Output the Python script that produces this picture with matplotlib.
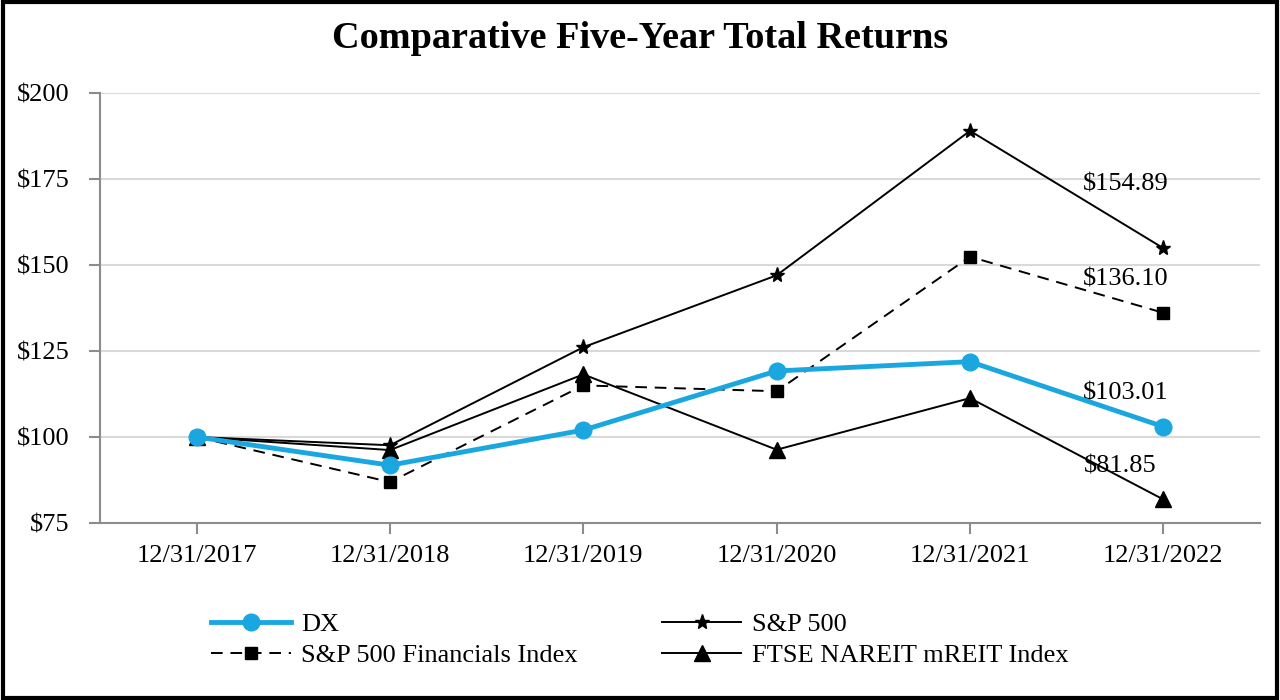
import matplotlib.pyplot as plt
from matplotlib.patches import Rectangle

plt.rcParams['font.family'] = ['Liberation Serif', 'DejaVu Serif']

dates = ['12/31/2017', '12/31/2018', '12/31/2019', '12/31/2020', '12/31/2021', '12/31/2022']
dx = [100, 91.8, 102.0, 119.2, 121.9, 103.01]
sp500 = [100, 97.6, 126.1, 147.0, 189.0, 154.89]
sp_fin = [100, 86.9, 115.0, 113.3, 152.4, 136.10]
mreit = [100, 96.2, 118.2, 96.3, 111.3, 81.85]
end_labels = ['$154.89', '$136.10', '$103.01', '$81.85']
end_values = [sp500[-1], sp_fin[-1], dx[-1], mreit[-1]]

fig = plt.figure(figsize=(12.8, 7), dpi=100)
ax = fig.add_axes([100/1280, 1 - 523/700, 1160/1280, 430/700])

x = list(range(len(dates)))
ax.plot(x, sp_fin, color='black', linestyle=(0, (6, 4)), linewidth=1.4, marker='s', markersize=9, label='S&P 500 Financials Index', zorder=3)
ax.plot(x, sp500, color='black', linewidth=1.4, marker='*', markersize=11, label='S&P 500', zorder=3)
ax.plot(x, mreit, color='black', linewidth=1.4, marker='^', markersize=11, label='FTSE NAREIT mREIT Index', zorder=3)
ax.plot(x, dx, color='#1aa7e0', linewidth=3.5, marker='o', markersize=12, label='DX', zorder=4)

# end labels
offsets = [38, 16, 16, 16]
xoffs = [-27, -27, -27, -31]
for val, lab, off, xo in zip(end_values, end_labels, offsets, xoffs):
    ax.annotate(lab, (x[-1], val), xytext=(xo, off), textcoords='offset points',
                ha='center', va='bottom', fontsize=19)

ax.set_xlim(-0.5, 5.5)
ax.set_ylim(75, 200)
ax.set_yticks([75, 100, 125, 150, 175, 200])
ax.set_yticklabels(['$75', '$100', '$125', '$150', '$175', '$200'])
ax.set_xticks(x)
ax.set_xticklabels(dates)
ax.tick_params(labelsize=19, color='#8c8c8c', length=8, width=1.5)
ax.tick_params(axis='x', pad=8)
ax.tick_params(axis='y', pad=14)
ax.grid(axis='y', color='#d9d9d9', linewidth=1.5)
ax.set_axisbelow(True)
for s in ['top', 'right']:
    ax.spines[s].set_visible(False)
for s in ['left', 'bottom']:
    ax.spines[s].set_color('#8c8c8c')
    ax.spines[s].set_linewidth(1.5)

fig.text(0.5, 1 - 38/700, 'Comparative Five-Year Total Returns', ha='center', va='center',
         fontsize=27.5, fontweight='bold')

h, l = ax.get_legend_handles_labels()
order = [3, 0, 1, 2]
h = [h[i] for i in order]
l = [l[i] for i in order]
fig.legend(h, l, ncol=2, loc='center', bbox_to_anchor=(0.5, 1 - 640/700), frameon=False,
           fontsize=19, handlelength=3, handletextpad=0.4, columnspacing=3.2, labelspacing=0.3)

fig.patches.append(Rectangle((0.002, 0.003), 0.996, 0.994, transform=fig.transFigure,
                             fill=False, edgecolor='black', linewidth=3))

fig.savefig('out.png', dpi=100)
